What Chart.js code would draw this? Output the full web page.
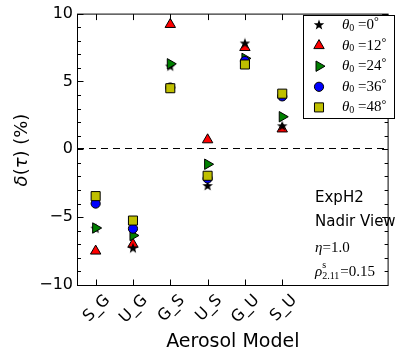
<!DOCTYPE html>
<html>
<head>
<meta charset="utf-8">
<script src="https://cdn.jsdelivr.net/npm/chart.js@4"></script>
<style>
html,body{margin:0;padding:0;background:#fff;}
#wrap{width:396px;height:356px;}
</style>
</head>
<body>
<div id="wrap"><canvas id="c" width="396" height="356"></canvas></div>
<script>
// ---- data ----
const categories = ['S_G', 'U_G', 'G_S', 'U_S', 'G_U', 'S_U'];
const angles = [0, 12, 24, 36, 48];
const theta0 = [-5.85, -7.3, 6.1, -2.7, 7.8, 1.7];
const theta12 = [-7.5, -7.0, 9.2, 0.7, 7.5, 1.5];
const theta24 = [-5.8, -6.35, 6.3, -1.1, 6.7, 2.4];
const theta36 = [-4.0, -5.85, 4.55, -2.15, 6.5, 3.9];
const theta48 = [-3.45, -5.25, 4.5, -1.95, 6.25, 4.1];
const yTicks = [-10, -5, 0, 5, 10];
const annotations = ['ExpH2', 'Nadir View'];
const etaValue = '1.0';
const rhoValue = '0.15';
const xTitle = 'Aerosol Model';

// filled star marker
function makeStar(size) {
  const cv = document.createElement('canvas');
  cv.width = size; cv.height = size;
  const g = cv.getContext('2d');
  const cx = size / 2, cy = size / 2, R = size / 2 - 0.5, r = R * 0.42;
  g.beginPath();
  for (let i = 0; i < 10; i++) {
    const a = -Math.PI / 2 + i * Math.PI / 5;
    const rr = i % 2 === 0 ? R : r;
    g.lineTo(cx + rr * Math.cos(a), cy + rr * Math.sin(a));
  }
  g.closePath();
  g.fillStyle = '#000';
  g.fill();
  return cv;
}
const starImg = makeStar(12);

const seriesValues = [theta0, theta12, theta24, theta36, theta48];
const styles = [
  {pointStyle: starImg, color: '#000000', radius: 6, rotation: 0, order: 4},
  {pointStyle: 'triangle', color: '#ff0000', radius: 6, rotation: 0, order: 5},
  {pointStyle: 'triangle', color: '#008000', radius: 6, rotation: 90, order: 3},
  {pointStyle: 'circle', color: '#0000ff', radius: 4.6, rotation: 0, order: 2},
  {pointStyle: 'rect', color: '#bfbf00', radius: 6.4, rotation: 0, order: 1}
];

const datasets = seriesValues.map((vals, k) => ({
  label: 'θ0=' + angles[k] + '°',
  data: vals.map((v, i) => ({x: i, y: v})),
  pointStyle: styles[k].pointStyle,
  pointRadius: styles[k].radius,
  pointHoverRadius: styles[k].radius,
  pointRotation: styles[k].rotation,
  backgroundColor: styles[k].color,
  borderColor: '#000',
  pointBorderWidth: 1,
  showLine: false,
  order: styles[k].order,
  _angle: angles[k]
}));

function mathText(ctx, x, y, parts, family) {
  // parts: [text, style, dy, size]
  let cx = x;
  parts.forEach(p => {
    ctx.font = (p[1] === 'i' ? 'italic ' : '') + p[3] + 'px ' + (family || '"Liberation Serif", serif');
    ctx.fillText(p[0], cx, y + p[2]);
    cx += ctx.measureText(p[0]).width;
  });
  return cx - x;
}
function measureParts(ctx, parts, family) {
  let w = 0;
  parts.forEach(p => {
    ctx.font = (p[1] === 'i' ? 'italic ' : '') + p[3] + 'px ' + family;
    w += ctx.measureText(p[0]).width;
  });
  return w;
}

const framePlugin = {
  id: 'frame',
  beforeDatasetsDraw(chart) {
    const {ctx, chartArea: a, scales: {x, y}} = chart;
    ctx.save();
    const y0 = Math.round(y.getPixelForValue(0)) - 0.5;
    ctx.strokeStyle = '#000';
    ctx.lineWidth = 1;
    ctx.setLineDash([7, 5]);
    ctx.beginPath();
    ctx.moveTo(a.left, y0); ctx.lineTo(a.right, y0);
    ctx.stroke();
    ctx.restore();
  },
  afterDatasetsDraw(chart) {
    const {ctx, chartArea: a, scales: {x, y}} = chart;
    ctx.save();
    ctx.strokeStyle = '#000';
    ctx.lineWidth = 1;
    const L = a.left + 0.5, R = a.right - 0.5, T = a.top + 0.5, B = a.bottom + 0.5;
    ctx.strokeRect(L, T, R - L, B - T);
    ctx.beginPath();
    for (let v = -10; v <= 10; v++) {
      const py = Math.round(y.getPixelForValue(v)) + 0.5;
      const len = (v % 5 === 0) ? 6 : 3.5;
      ctx.moveTo(L, py); ctx.lineTo(L + len, py);
      ctx.moveTo(R, py); ctx.lineTo(R - len, py);
    }
    categories.forEach((c, i) => {
      const px = Math.round(x.getPixelForValue(i)) + 0.5;
      ctx.moveTo(px, B); ctx.lineTo(px, B - 6);
      ctx.moveTo(px, T); ctx.lineTo(px, T + 6);
    });
    ctx.stroke();

    // y-axis title with math italics
    ctx.save();
    ctx.translate(22, 150);
    ctx.rotate(-Math.PI / 2);
    ctx.fillStyle = '#000';
    ctx.textBaseline = 'middle';
    ctx.textAlign = 'left';
    const fam = '"DejaVu Sans", sans-serif';
    const tparts = [['δ', 'i', 0, 18], ['(', '', 0, 18], ['τ', 'i', 0, 18], [')', '', 0, 18], [' (%)', '', 0, 18]];
    const tw = measureParts(ctx, tparts, fam);
    mathText(ctx, -tw / 2, 0, tparts, fam);
    ctx.restore();

    // legend
    const lx = 303.5, ly = 15.5, lw = 91, lh = 103;
    ctx.fillStyle = '#fff';
    ctx.fillRect(lx, ly, lw, lh);
    ctx.strokeRect(lx, ly, lw, lh);
    chart.data.datasets.forEach((ds, k) => {
      const yy = 25 + k * 20.6;
      ctx.fillStyle = ds.backgroundColor;
      ctx.strokeStyle = '#000';
      ctx.lineWidth = 1;
      Chart.helpers.drawPoint(ctx, {pointStyle: ds.pointStyle, radius: ds.pointRadius, rotation: ds.pointRotation, borderWidth: 1}, 319, yy);
      ctx.fillStyle = '#000';
      ctx.textBaseline = 'middle';
      ctx.textAlign = 'left';
      mathText(ctx, 342, yy, [['θ', 'i', 0, 15], ['0', '', 3, 10], [' =' + ds._angle, '', 0, 15], ['°', '', -3, 12]]);
    });

    // annotations
    ctx.fillStyle = '#000';
    ctx.textAlign = 'left';
    ctx.textBaseline = 'middle';
    ctx.font = '15px "DejaVu Sans"';
    ctx.fillText(annotations[0], 315, 198);
    ctx.fillText(annotations[1], 315, 222);
    mathText(ctx, 315, 248, [['η', 'i', 0, 15], ['=' + etaValue, '', 0, 15]]);
    mathText(ctx, 315, 272, [['ρ', 'i', 0, 15]]);
    ctx.font = 'italic 15px "Liberation Serif", serif';
    const rw = ctx.measureText('ρ').width;
    mathText(ctx, 315 + rw, 272, [['s', '', -7, 10]]);
    mathText(ctx, 315 + rw, 272, [['2.11', '', 4, 10]]);
    ctx.font = '10px "Liberation Serif", serif';
    const sw = ctx.measureText('2.11').width;
    mathText(ctx, 315 + rw + sw + 1, 272, [['=' + rhoValue, '', 0, 15]]);
    ctx.restore();
  }
};

new Chart(document.getElementById('c'), {
  type: 'scatter',
  data: {datasets},
  plugins: [framePlugin],
  options: {
    responsive: false,
    animation: false,
    events: [],
    layout: {padding: {top: 10, right: 0, left: 0, bottom: 0}},
    plugins: {legend: {display: false}, tooltip: {enabled: false}},
    scales: {
      x: {
        type: 'linear',
        min: -0.5,
        max: 7.85,
        afterFit: s => { s.height = 71; },
        afterBuildTicks: s => { s.ticks = categories.map((c, i) => ({value: i})); },
        grid: {display: false, drawTicks: false},
        border: {display: false},
        ticks: {
          autoSkip: false,
          minRotation: 45, maxRotation: 45,
          padding: 6,
          labelOffset: 12,
          color: '#000',
          font: {family: 'DejaVu Sans', size: 16},
          callback: v => categories[v]
        },
        title: {display: true, text: xTitle, color: '#000', font: {family: 'DejaVu Sans', size: 19}, padding: {top: 0, bottom: 3}}
      },
      y: {
        min: -10, max: 10,
        afterFit: s => { s.width = 77; },
        afterBuildTicks: s => { s.ticks = yTicks.map(v => ({value: v})); },
        grid: {display: false, drawTicks: false},
        border: {display: false},
        ticks: {
          padding: 4,
          color: '#000',
          font: {family: 'DejaVu Sans', size: 16},
          callback: v => v < 0 ? '\u2212' + Math.abs(v) : String(v)
        }
      }
    }
  }
});
</script>
</body>
</html>
